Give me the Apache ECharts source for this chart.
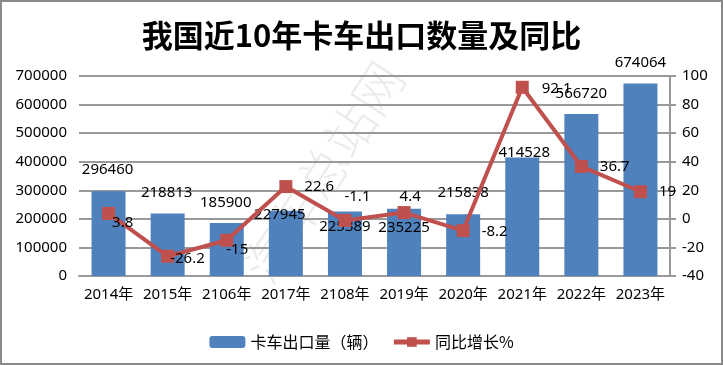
<!DOCTYPE html>
<html>
<head>
<meta charset="utf-8">
<script src="https://cdn.jsdelivr.net/npm/echarts@6/dist/echarts.min.js"></script>
<style>
html,body{margin:0;padding:0;background:#fff;}
#chart{width:723px;height:365px;}
</style>
</head>
<body>
<div id="chart"></div>
<script>
// ---- data ----
var titleText = '我国近10年卡车出口数量及同比';
var categories = ['2014年','2015年','2106年','2017年','2108年','2019年','2020年','2021年','2022年','2023年'];
var exportVolume = [296460, 218813, 185900, 227945, 225389, 235225, 215838, 414528, 566720, 674064];
var yoyGrowth = [3.8, -26.2, -15, 22.6, -1.1, 4.4, -8.2, 92.1, 36.7, 19];
var seriesNames = ['卡车出口量（辆）', '同比增长%'];
var leftTicks = {min: 0, max: 700000, interval: 100000};
var rightTicks = {min: -40, max: 100, interval: 20};

// ---- label styling (pixel nudges, as in the reference) ----
var barLabelOffsets = [[-1,-9],[-1,-8],[-1,-8],[-6,16],[0,28],[0,31],[0,-9],[2,8],[0,-8],[0,-8]];
var lineLabelOffsets = [[-15,9],[-16,2],[-19,9],[0,0],[-19,-24],[-23,-16],[0,1],[1,1],[0,0],[0,0]];

var FONT = "'Noto Sans','Noto Sans CJK SC',sans-serif";
var BAR = '#4F81BD', LINE = '#C0504D', GRID = '#999999';

var chart = echarts.init(document.getElementById('chart'), null, {renderer: 'canvas'});

var barData = exportVolume.map(function (v, i) {
  return {value: v, label: {offset: barLabelOffsets[i]}};
});
var lineData = yoyGrowth.map(function (v, i) {
  return {value: v, label: {offset: lineLabelOffsets[i]}};
});

chart.setOption({
  animation: false,
  backgroundColor: '#ffffff',
  textStyle: {fontFamily: FONT},
  title: {
    text: titleText,
    left: 'center',
    top: 15,
    textStyle: {fontFamily: "'Noto Sans CJK SC',sans-serif", fontSize: 31, fontWeight: 'bold', color: '#000'}
  },
  graphic: [
    {
      type: 'rect', z: 100, silent: true,
      shape: {x: 1, y: 1, width: 721, height: 363},
      style: {fill: 'none', stroke: '#8a8a8a', lineWidth: 2}
    },
    {
      type: 'text', z: 0, silent: true,
      x: 323, y: 172, rotation: 57 * Math.PI / 180,
      style: {
        text: '汽车总站网', fill: 'rgba(0,0,0,0.08)',
        font: "300 50px 'Noto Sans CJK SC'", align: 'center', verticalAlign: 'middle'
      }
    }
  ],
  legend: {
    data: [
      {name: seriesNames[0]},
      {name: seriesNames[1], lineStyle: {width: 5}}
    ],
    left: 'center',
    top: 329,
    itemWidth: 36,
    itemHeight: 12,
    itemGap: 13,
    textStyle: {fontSize: 16, color: '#000', fontFamily: "'Noto Sans CJK SC',sans-serif"}
  },
  grid: {left: 79, right: 53, top: 76, bottom: 89, containLabel: false},
  xAxis: {
    type: 'category',
    data: categories,
    axisLine: {lineStyle: {color: GRID, width: 2}},
    axisTick: {show: false},
    axisLabel: {color: '#000', fontSize: 15, margin: 11, interval: 0}
  },
  yAxis: [
    {
      type: 'value',
      min: leftTicks.min, max: leftTicks.max, interval: leftTicks.interval,
      axisLine: {show: false},
      axisTick: {show: false},
      axisLabel: {color: '#000', fontSize: 15, margin: 12, formatter: function (v) { return String(v); }},
      splitLine: {lineStyle: {color: GRID, width: 2}}
    },
    {
      type: 'value',
      position: 'right',
      min: rightTicks.min, max: rightTicks.max, interval: rightTicks.interval,
      axisLine: {show: true, lineStyle: {color: GRID, width: 2}},
      axisTick: {show: true, length: 6, lineStyle: {color: GRID, width: 2}},
      axisLabel: {color: '#000', fontSize: 15, margin: 12, formatter: function (v) { return String(v); }},
      splitLine: {show: false}
    }
  ],
  series: [
    {
      name: seriesNames[0],
      type: 'bar',
      data: barData,
      barWidth: 34,
      itemStyle: {color: BAR},
      z: 2,
      label: {show: true, position: 'top', distance: 5, color: '#000', fontSize: 15, fontFamily: FONT}
    },
    {
      name: seriesNames[1],
      type: 'line',
      yAxisIndex: 1,
      data: lineData,
      symbol: 'rect',
      symbolSize: 13,
      lineStyle: {color: LINE, width: 4},
      itemStyle: {color: LINE},
      z: 3,
      label: {show: true, position: 'right', distance: 12, color: '#000', fontSize: 15, fontFamily: FONT}
    }
  ]
});
</script>
</body>
</html>
